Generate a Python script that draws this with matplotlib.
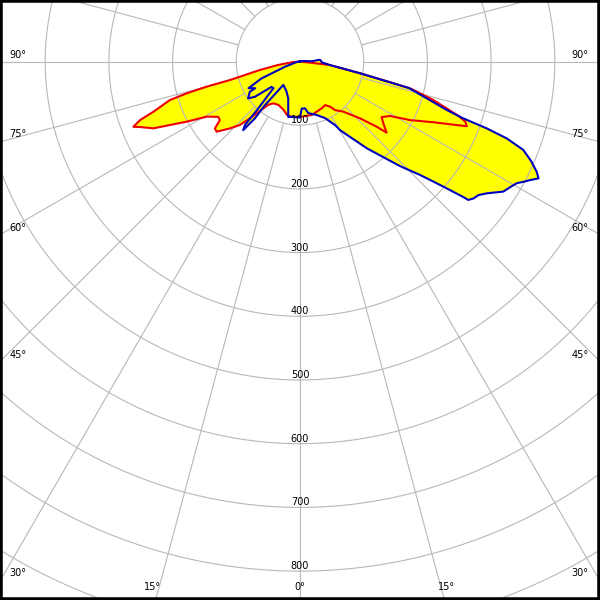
import numpy as np
import matplotlib.pyplot as plt
from matplotlib.patches import Rectangle

# Light distribution, angle from nadir in degrees (negative = left side), intensity in cd
red_angles = [-180, -90, -85, -81, -78, -75.8, -75.2, -74.9, -74.3, -73.5, -71.1, -69.9,
              -68.6, -67.8, -65.5, -62, -59.4, -55.9, -53.8, -51.8, -49.9, -46.3, -43.4,
              -41.4, -39.9, -36.1, -32.6, -26.5, -19, -14, -8.6, 0, 12.3, 24.9, 29.9, 33.6,
              35.8, 40.8, 46.6, 49.6, 50.6, 53.4, 55.7, 58.8, 62, 65.5, 67.9, 68.8, 70, 71,
              73.9, 76.3, 77.4, 78.9, 83.3, 90, 180]
red_cd = [0, 0, 12, 35, 65, 97, 114, 152, 185, 213, 243, 267,
          281, 272, 253, 201, 170, 155, 156, 170, 171, 152, 137,
          119, 106, 84, 78, 76, 80, 86, 88, 87, 86, 81, 79, 85,
          94, 104, 130, 158, 176, 163, 155, 165, 196, 230, 265, 281, 276, 264,
          218, 178, 133, 96, 47, 0, 0]

blue_angles = [-180, -90, -70.9, -67.8, -66.3, -62.6, -59.2, -58.9, -54.6, -52, -48.3,
               -44.9, -41.7, -40.9, -39.6, -38.4, -38.8, -35.4, -23.8, -17.6, -12, -8.6,
               0, 2.1, 6.1, 9.1, 17.3, 23.8, 28.9, 30.3, 37.6, 43.7, 46.6, 48.9, 50.3,
               50.55, 51.7, 53.2, 54.8, 57.4, 58.7, 60.65, 61.9, 62.7, 63.9, 65, 66.6,
               68.4, 69.6, 70.3, 70.8, 71.7, 73.8, 76.3, 78.9, 83.3, 87.9, 92, 95, 91,
               100, 180]
blue_cd = [0, 3, 25, 42, 66, 91, 82, 92, 100, 90, 60,
           59, 98, 132, 140, 114, 88, 45, 52, 61, 89, 88,
           88, 74, 74, 82, 88, 97, 114, 125, 172, 227, 259, 299, 333,
           342, 347, 350, 359, 379, 383, 390, 400, 406, 417, 410, 396,
           377, 346, 311, 271, 243, 207, 176, 96, 47, 34, 33, 31, 18,
           5, 0]

ring_values = [100, 200, 300, 400, 500, 600, 700, 800, 900]
ring_labels = ["100", "200", "300", "400", "500", "600", "700", "800"]
spoke_angles = np.arange(0, 360, 15)

# angle labels placed along the picture edges (pixel x, pixel y from top)
edge_labels = ["90°", "75°", "60°", "45°", "30°", "90°", "75°", "60°", "45°", "30°",
               "15°", "0°", "15°"]
edge_x = [18, 18, 18, 18, 18, 580, 580, 580, 580, 580, 153, 300, 447]
edge_y = [55, 134, 228, 355, 573, 55, 134, 228, 355, 573, 587, 587, 587]

fig = plt.figure(figsize=(6, 6), dpi=100)
# polar axes centred at pixel (300, 61.5), 1000 cd = 637 px
size = 2 * 637 / 600
cx, cy = 0.5, (600 - 61.5) / 600
ax = fig.add_axes([cx - size / 2, cy - size / 2, size, size], projection='polar')
ax.axis('off')
ax.set_theta_zero_location('S')
ax.set_ylim(0, 1000)

ax.fill(np.radians(red_angles), red_cd, color='#ffff00', lw=0, zorder=1)
ax.fill(np.radians(blue_angles), blue_cd, color='#ffff00', lw=0, zorder=1)

grid_col = '#b8b8b8'
circle = np.linspace(0, 2 * np.pi, 721)
for r in ring_values:
    ax.plot(circle, np.full_like(circle, r), color=grid_col, lw=0.8, zorder=2)
for a in spoke_angles:
    ax.plot([np.radians(a)] * 2, [100, 1000], color=grid_col, lw=0.8, zorder=2)

ax.plot(np.radians(red_angles), red_cd, color='#ee0000', lw=1.5, zorder=3)
ax.plot(np.radians(blue_angles), blue_cd, color='#0000c0', lw=1.5, zorder=4)

for r, lab in zip(ring_values, ring_labels):
    ax.text(0, r, lab, ha='center', va='bottom', fontsize=7, zorder=5)

for lab, x, y in zip(edge_labels, edge_x, edge_y):
    fig.text(x / 600, 1 - y / 600, lab, ha='center', va='center', fontsize=7)

fig.add_artist(Rectangle((0, 0), 1, 1, transform=fig.transFigure, fill=False,
                         lw=4, ec='black', zorder=10))

fig.savefig('out.png', dpi=100)
